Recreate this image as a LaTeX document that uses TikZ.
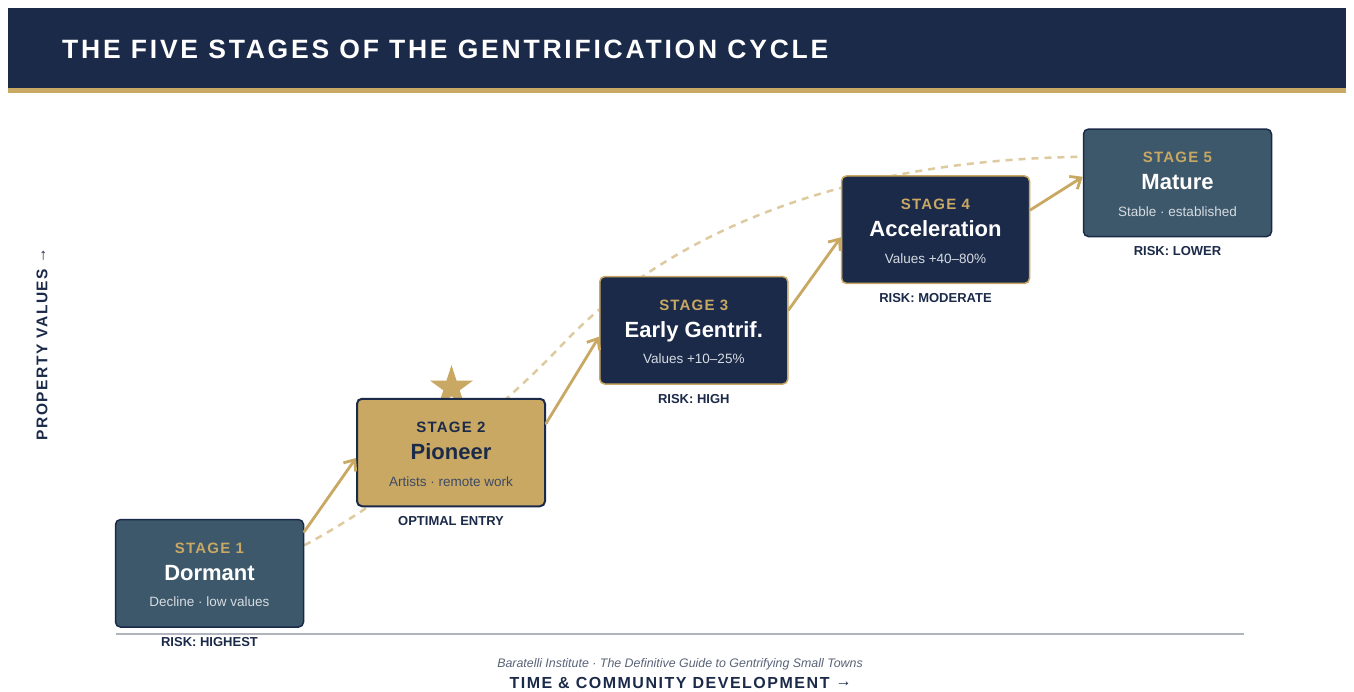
\documentclass[tikz,border=0pt]{standalone}
\usepackage{fontspec}
\setmainfont{Liberation Sans}
\usetikzlibrary{calc,positioning,arrows.meta,shapes.geometric,backgrounds}

\definecolor{navy}{HTML}{1C2A4A}
\definecolor{gold}{HTML}{C8A862}
\definecolor{slate}{HTML}{3D586A}
\definecolor{paledash}{HTML}{DDCB9F}
\definecolor{mist}{HTML}{D6DCE3}
\definecolor{axisgray}{HTML}{B0B5BD}
\definecolor{footgray}{HTML}{5A6478}

\newcommand{\spaced}[2]{{\addfontfeatures{LetterSpace=#1}#2}}
\newcommand{\onward}{\raisebox{1.5pt}{→}}

\begin{document}
\begin{tikzpicture}[x=1pt,y=-1pt]
    \tikzstyle{stage}=[rectangle,rounded corners=5pt,minimum width=188pt,minimum height=107.5pt,line width=1.5pt]
    \tikzstyle{stagetag}=[inner sep=0,anchor=base,font=\fontsize{15}{15}\selectfont\bfseries]
    \tikzstyle{stagename}=[inner sep=0,anchor=base,font=\fontsize{22}{22}\selectfont\bfseries]
    \tikzstyle{stagenote}=[inner sep=0,anchor=base,font=\fontsize{13.5}{13.5}\selectfont]
    \tikzstyle{risk}=[inner sep=0,text=navy,font=\fontsize{13}{13}\selectfont\bfseries]
    \tikzstyle{advance}=[draw=gold,line width=2.8pt,line cap=round,-{Straight Barb[length=9pt,width=15pt]}]
    \tikzstyle{trend}=[draw=paledash,line width=2.5pt,dash pattern=on 7pt off 6pt]
    \useasboundingbox (0,0) rectangle (1354,691);

    % header band
    \fill[navy] (8,8) rectangle (1346,88.3);
    \fill[gold] (8,88.3) rectangle (1346,92.5);
    \node[inner sep=0,anchor=base west,text=white,font=\fontsize{26.5}{26.5}\selectfont\bfseries] (title) at (62,58.3) {\spaced{10.5}{THE FIVE STAGES OF THE GENTRIFICATION CYCLE}};

    % marker for the best moment to buy
    \node[star,star points=5,star point ratio=2.618,minimum size=45pt,inner sep=0,fill=gold] (pick) at (451.5,387.6) {};

    % stages
    \node[stage,fill=slate,draw=navy] (s1) at (209.5,573.3) {};
    \node[stage,fill=gold,draw=navy,line width=2pt] (s2) at (451,452.5) {};
    \node[stage,fill=navy,draw=gold] (s3) at (693.8,330.3) {};
    \node[stage,fill=navy,draw=gold] (s4) at (935.5,229.7) {};
    \node[stage,fill=slate,draw=navy] (s5) at (1177.5,182.8) {};

    % long-run trend, kept behind the boxes
    \coordinate (bend) at (560,347);
    \begin{scope}[on background layer]
        \fill[white] (0,0) rectangle (1354,691);
        \draw[trend] ([yshift=28pt]s1.east) .. controls (386,502) and (490,420) .. (bend)
            .. controls (660,240) and (830,160) .. ([yshift=26pt]s5.west);
    \end{scope}

    \node[stagetag,text=gold] (t1) at ([yshift=20pt]s1.center) {\spaced{8}{STAGE 1}};
    \node[stagename,text=white] (n1) at ([yshift=-6.8pt]s1.center) {Dormant};
    \node[stagenote,text=mist] (d1) at ([yshift=-33.5pt]s1.center) {Decline · low values};

    \node[stagetag,text=navy] (t2) at ([yshift=20pt]s2.center) {\spaced{8}{STAGE 2}};
    \node[stagename,text=navy] (n2) at ([yshift=-6.8pt]s2.center) {Pioneer};
    \node[stagenote,text=navy!85] (d2) at ([yshift=-33.5pt]s2.center) {Artists · remote work};

    \node[stagetag,text=gold] (t3) at ([yshift=20pt]s3.center) {\spaced{8}{STAGE 3}};
    \node[stagename,text=white] (n3) at ([yshift=-6.8pt]s3.center) {Early Gentrif.};
    \node[stagenote,text=mist] (d3) at ([yshift=-33.5pt]s3.center) {Values +10–25\%};

    \node[stagetag,text=gold] (t4) at ([yshift=20pt]s4.center) {\spaced{8}{STAGE 4}};
    \node[stagename,text=white] (n4) at ([yshift=-6.8pt]s4.center) {Acceleration};
    \node[stagenote,text=mist] (d4) at ([yshift=-33.5pt]s4.center) {Values +40–80\%};

    \node[stagetag,text=gold] (t5) at ([yshift=20pt]s5.center) {\spaced{8}{STAGE 5}};
    \node[stagename,text=white] (n5) at ([yshift=-6.8pt]s5.center) {Mature};
    \node[stagenote,text=mist] (d5) at ([yshift=-33.5pt]s5.center) {Stable · established};

    \node[risk] (r1) [below=9pt of s1] {RISK: HIGHEST};
    \node[risk] (r2) [below=9pt of s2] {OPTIMAL ENTRY};
    \node[risk] (r3) [below=9pt of s3] {RISK: HIGH};
    \node[risk] (r4) [below=9pt of s4] {RISK: MODERATE};
    \node[risk] (r5) [below=9pt of s5] {RISK: LOWER};

    % steps between stages
    \draw[advance] ([yshift=41.6pt]s1.east) -- ([yshift=-5.5pt]s2.west);
    \draw[advance] ([yshift=29pt]s2.east) -- ([yshift=-6.4pt]s3.west);
    \draw[advance] ([yshift=20.3pt]s3.east) -- ([yshift=-7.6pt]s4.west);
    \draw[advance] ([yshift=19.7pt]s4.east) -- ([yshift=6pt]s5.west);

    % axes
    \coordinate (axl) at (116,634);
    \coordinate (axr) at (1244,634);
    \draw[axisgray,line width=2pt] (axl) -- (axr);
    \node[inner sep=0,rotate=90,text=navy,font=\fontsize{15.5}{15.5}\selectfont\bfseries] (yl) at (42,344) {\spaced{10}{PROPERTY VALUES \onward}};
    \node[inner sep=0,anchor=base,text=footgray,font=\fontsize{12.4}{12.4}\selectfont\itshape] (src) at (680,667) {Baratelli Institute · The Definitive Guide to Gentrifying Small Towns};
    \node[inner sep=0,anchor=base,text=navy,font=\fontsize{16}{16}\selectfont\bfseries] (xl) at (680.5,688) {\spaced{9.5}{TIME \& COMMUNITY DEVELOPMENT \onward}};
\end{tikzpicture}
\end{document}
